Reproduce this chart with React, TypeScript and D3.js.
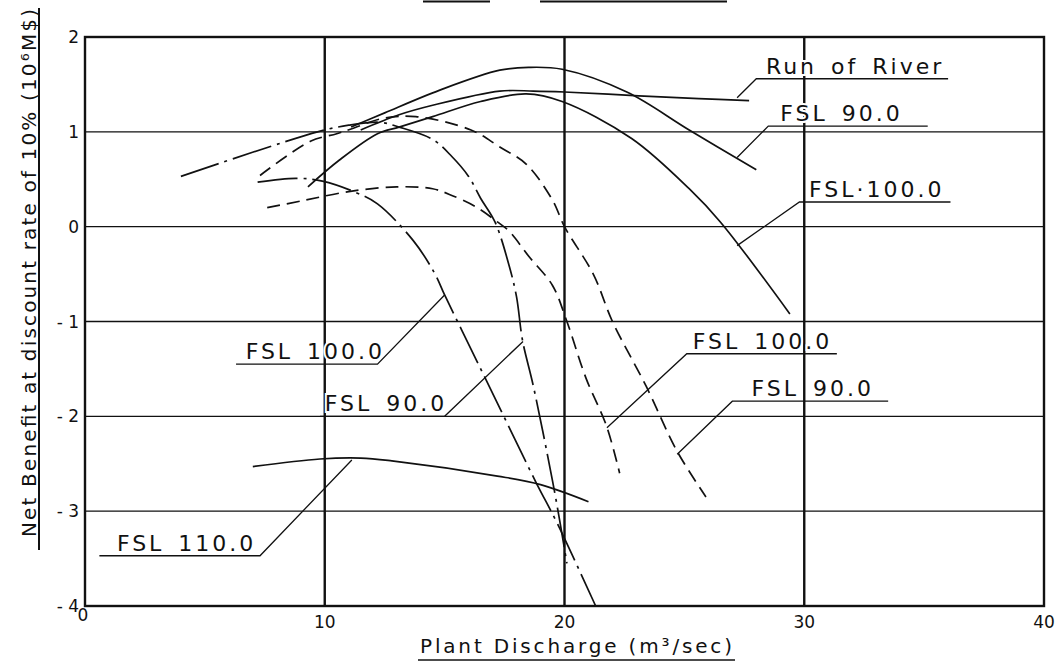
import React, { useEffect, useRef } from "react";
import * as d3 from "d3";

// axis ticks
const xTicks = [0, 10, 20, 30, 40];
const yTicks = [2, 1, 0, -1, -2, -3, -4];

// solid curves
const fsl90Solid = [[11.1, 1.05], [12.5, 1.2], [14.8, 1.44], [17.3, 1.65], [18.5, 1.68], [19.9, 1.66], [22.6, 1.42], [25.2, 1.02], [28.0, 0.6]];
const runOfRiver = [[11.5, 1.02], [13.1, 1.18], [14.5, 1.28], [17.3, 1.43], [18.7, 1.43], [20.0, 1.42], [23.1, 1.38], [25.6, 1.35], [27.7, 1.33]];
const fsl100Solid = [[9.3, 0.42], [10.6, 0.7], [12.2, 0.98], [13.1, 1.05], [14.5, 1.16], [16.5, 1.32], [18.4, 1.4], [19.9, 1.32], [22.8, 0.93], [25.2, 0.4], [26.5, 0.05], [29.4, -0.92]];
const fsl110Solid = [[7.0, -2.53], [9.8, -2.45], [11.5, -2.44], [12.8, -2.47], [17.2, -2.63], [19.0, -2.72], [21.0, -2.9]];

// dashed curves
const fsl90Dashed = [[7.3, 0.54], [9.4, 0.9], [10.5, 0.98], [11.1, 1.03], [12.4, 1.14], [13.8, 1.16], [16.1, 1.02], [17.3, 0.84], [18.4, 0.66], [19.5, 0.28], [20.0, 0.0], [21.2, -0.5], [22.0, -1.0], [23.4, -1.68], [24.7, -2.37], [25.9, -2.85]];
const fsl100Dashed = [[7.6, 0.2], [9.0, 0.27], [11.0, 0.37], [13.0, 0.42], [14.5, 0.4], [15.2, 0.34], [16.3, 0.21], [17.2, 0.05], [17.7, -0.05], [18.5, -0.31], [19.5, -0.62], [20.1, -1.0], [20.9, -1.6], [21.75, -2.1], [22.3, -2.6]];

// dash-dot curves
const fsl90DashDot = [[4.0, 0.53], [9.7, 1.0], [11.0, 1.07], [12.3, 1.1], [13.1, 1.05], [14.5, 0.92], [15.3, 0.74], [16.0, 0.53], [16.5, 0.3], [17.1, 0.05], [17.7, -0.42], [18.0, -0.74], [18.25, -1.2], [18.7, -1.68], [19.5, -2.68], [19.8, -3.1], [20.1, -3.55]];
const fsl100DashDot = [[7.2, 0.47], [8.8, 0.51], [9.9, 0.48], [11.3, 0.36], [12.2, 0.24], [13.7, -0.15], [14.6, -0.5], [15.0, -0.72], [16.1, -1.29], [17.2, -1.86], [18.8, -2.69], [19.7, -3.13], [21.3, -4.0]];

const series = [
  { points: fsl90Solid, dash: null },
  { points: runOfRiver, dash: null },
  { points: fsl100Solid, dash: null },
  { points: fsl110Solid, dash: null },
  { points: fsl90Dashed, dash: "13,7" },
  { points: fsl100Dashed, dash: "13,7" },
  { points: fsl90DashDot, dash: "40,6,3,6" },
  { points: fsl100DashDot, dash: "40,6,3,6" },
];

// leader labels: the curve point pointed at, the elbow, far end of underline
const labels = [
  { text: "Run of River", tip: [27.2, 1.36], elbow: [28.0, 1.56], end: 36.0, tx: 28.4 },
  { text: "FSL 90.0", tip: [27.2, 0.73], elbow: [28.5, 1.06], end: 35.15, tx: 29.0 },
  { text: "FSL·100.0", tip: [27.2, -0.2], elbow: [29.8, 0.26], end: 36.1, tx: 30.2 },
  { text: "FSL 100.0", tip: [15.0, -0.72], elbow: [12.2, -1.45], end: 6.3, tx: 6.7 },
  { text: "FSL 90.0", tip: [18.27, -1.21], elbow: [15.0, -2.0], end: 9.8, tx: 10.0 },
  { text: "FSL 100.0", tip: [21.77, -2.12], elbow: [25.1, -1.34], end: 31.36, tx: 25.35 },
  { text: "FSL 90.0", tip: [24.7, -2.4], elbow: [27.0, -1.84], end: 33.5, tx: 27.8 },
  { text: "FSL 110.0", tip: [11.13, -2.46], elbow: [7.3, -3.47], end: 0.6, tx: 1.33 },
];

const xTitle = "Plant Discharge (m³/sec)";
const yTitle = "Net Benefit at discount rate of 10% (10⁶M$)";

const FONT = "'DejaVu Sans', sans-serif";

export default function App() {
  const ref = useRef<SVGSVGElement>(null);

  useEffect(() => {
    const svg = d3.select(ref.current);
    svg.selectAll("*").remove();

    const x = d3.scaleLinear().domain([0, 40]).range([85, 1044]);
    const y = d3.scaleLinear().domain([-4, 2]).range([606, 37]);
    const g = svg.append("g");

    // title underline remnants at the top edge
    g.selectAll("line.top")
      .data([[423, 490], [540, 727]])
      .join("line")
      .attr("x1", d => d[0]).attr("x2", d => d[1])
      .attr("y1", 1.5).attr("y2", 1.5)
      .attr("stroke", "#111").attr("stroke-width", 2);

    // grid
    g.selectAll("line.h")
      .data(yTicks.slice(1, -1))
      .join("line")
      .attr("x1", x(0)).attr("x2", x(40))
      .attr("y1", d => y(d)).attr("y2", d => y(d))
      .attr("stroke", "#111").attr("stroke-width", 1.4);
    g.selectAll("line.v")
      .data(xTicks.slice(1, -1))
      .join("line")
      .attr("x1", d => x(d)).attr("x2", d => x(d))
      .attr("y1", y(2)).attr("y2", y(-4))
      .attr("stroke", "#111").attr("stroke-width", 2.4);
    g.append("rect")
      .attr("x", x(0)).attr("y", y(2))
      .attr("width", x(40) - x(0)).attr("height", y(-4) - y(2))
      .attr("fill", "none").attr("stroke", "#111").attr("stroke-width", 2.4);

    // tick labels
    g.selectAll("text.yt")
      .data(yTicks)
      .join("text")
      .attr("x", 79).attr("y", d => y(d) + 6)
      .attr("text-anchor", "end")
      .attr("font-family", FONT).attr("font-size", 17).attr("fill", "#111")
      .text(d => (d < 0 ? "- " + Math.abs(d) : String(d)));
    g.selectAll("text.xt")
      .data(xTicks)
      .join("text")
      .attr("x", d => (d === 0 ? x(d) - 2 : x(d)))
      .attr("y", d => (d === 0 ? 621 : 628))
      .attr("text-anchor", "middle")
      .attr("font-family", FONT).attr("font-size", 17).attr("fill", "#111")
      .text(d => String(d));

    // curves
    const line = d3.line<number[]>()
      .x(d => x(d[0]))
      .y(d => y(d[1]))
      .curve(d3.curveCatmullRom.alpha(0.5));
    series.forEach(s => {
      g.append("path")
        .datum(s.points)
        .attr("d", line)
        .attr("fill", "none")
        .attr("stroke", "#111")
        .attr("stroke-width", 1.7)
        .attr("stroke-dasharray", s.dash);
    });

    // leaders and labels
    labels.forEach(l => {
      g.append("polyline")
        .attr("points", [[x(l.tip[0]), y(l.tip[1])], [x(l.elbow[0]), y(l.elbow[1])], [x(l.end), y(l.elbow[1])]].map(p => p.join(",")).join(" "))
        .attr("fill", "none").attr("stroke", "#111").attr("stroke-width", 1.3);
      g.append("text")
        .attr("x", x(l.tx)).attr("y", y(l.elbow[1]) - 5)
        .attr("font-family", FONT).attr("font-size", 22)
        .attr("letter-spacing", 3).attr("word-spacing", 4)
        .attr("fill", "#111")
        .attr("stroke", "#fff").attr("stroke-width", 4).attr("paint-order", "stroke")
        .text(l.text);
    });

    // axis titles with underline
    g.append("text")
      .attr("x", 420).attr("y", 653)
      .attr("font-family", FONT).attr("font-size", 20).attr("fill", "#111")
      .attr("textLength", 312).attr("lengthAdjust", "spacing")
      .text(xTitle);
    g.append("line")
      .attr("x1", 418).attr("x2", 735).attr("y1", 660).attr("y2", 660)
      .attr("stroke", "#111").attr("stroke-width", 1.6);

    g.append("text")
      .attr("transform", "translate(36,537) rotate(-90)")
      .attr("font-family", FONT).attr("font-size", 20).attr("fill", "#111")
      .attr("textLength", 528).attr("lengthAdjust", "spacing")
      .text(yTitle);
    g.append("line")
      .attr("x1", 39).attr("x2", 39).attr("y1", 8).attr("y2", 550)
      .attr("stroke", "#111").attr("stroke-width", 2);
  }, []);

  return (
    <svg
      ref={ref}
      width={1058}
      height={664}
      style={{ position: "absolute", left: 0, top: 0, background: "#fff" }}
    />
  );
}
